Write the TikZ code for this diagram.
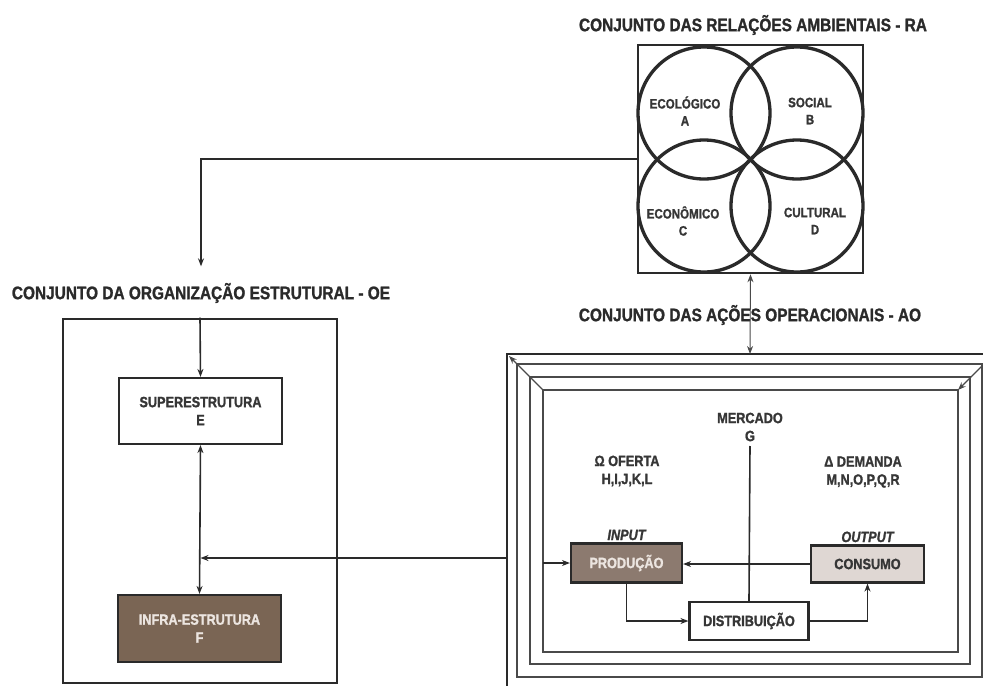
\documentclass[tikz,border=0pt]{standalone}
\usepackage{fontspec}
\setmainfont{Liberation Sans}[FakeStretch=0.85, BoldFeatures={FakeBold=1.3}, BoldItalicFeatures={FakeBold=1.3}]
\usetikzlibrary{arrows.meta,positioning}

\definecolor{ink}{HTML}{2A2A2A}
\definecolor{txt}{HTML}{363636}
\definecolor{claro}{HTML}{ECE5E0}
\definecolor{infra}{HTML}{7A6554}
\definecolor{prod}{HTML}{8C7A6F}
\definecolor{cons}{HTML}{DFD7D3}
\definecolor{moldura}{HTML}{4A4A4A}

\begin{document}
\begin{tikzpicture}[x=0.75pt, y=-0.75pt, >={Stealth[length=6pt,width=4.5pt]},
    every node/.style={align=center, text=txt, font=\bfseries\fontsize{11.2}{13.5}\selectfont}]

        % Styles for nodes
        \tikzstyle{titulo} = [font=\bfseries\fontsize{13.6}{15}\selectfont, text=ink]
        \tikzstyle{rotulo} = [font=\bfseries\fontsize{10.2}{12.8}\selectfont]
        \tikzstyle{caixa} = [draw=ink, line width=1.6pt, inner sep=0pt]
        \tikzstyle{fio} = [draw=ink, line width=1.2pt]
        \tikzstyle{filete} = [draw=moldura, line width=1pt]

        \useasboundingbox (0,0) rectangle (983,686);

        % Titles
        \node[titulo] (tRA) at (753,25) {CONJUNTO DAS RELAÇÕES AMBIENTAIS - RA};
        \node[titulo] (tOE) at (201,293) {CONJUNTO DA ORGANIZAÇÃO ESTRUTURAL - OE};
        \node[titulo] (tAO) at (750,315) {CONJUNTO DAS AÇÕES OPERACIONAIS - AO};

        % Relacoes ambientais
        \node[caixa, line width=1.9pt, minimum width=225*0.75pt, minimum height=228*0.75pt] (ra) at (750.5,159) {};
        \foreach \cx/\cy in {704/113, 797/113, 704/206, 797/206}
            \draw[ink, line width=2.5pt] (\cx,\cy) circle[radius=49.5pt];
        \node[rotulo] (eco) at (685,111) {ECOLÓGICO\\A};
        \node[rotulo] (soc) at (810,111) {SOCIAL\\B};
        \node[rotulo] (econ) at (683,221) {ECONÔMICO\\C};
        \node[rotulo] (cult) at (815,221) {CULTURAL\\D};

        % Organizacao estrutural
        \node[caixa, line width=1.9pt, minimum width=274*0.75pt, minimum height=364*0.75pt] (oe) at (200,501) {};
        \node[caixa, fill=white, minimum width=163*0.75pt, minimum height=66*0.75pt] (super) at (200.5,411) {SUPERESTRUTURA\\E};
        \node[caixa, fill=infra, text=claro, minimum width=163*0.75pt, minimum height=67*0.75pt] (infra) at (199.5,628.5) {INFRA-ESTRUTURA\\F};

        % Acoes operacionais (frame)
        \coordinate (aoT) at (750,354);
        \coordinate (aoL) at (507,558);
        \draw[ink, line width=1.9pt] (507,686) -- (507,354) -- (983,354);
        \draw[filete] (517,364) rectangle (982,677);
        \draw[filete] (530,377) rectangle (970,664);
        \draw[filete] (543,390) rectangle (958,652);
        \draw[filete, ->] (543,390) -- (509,356);
        \draw[filete, <-] (958,390) -- (982,366);

        \node (merc) at (750,427) {MERCADO\\G};
        \node (oferta) at (627,471) {Ω OFERTA\\H,I,J,K,L};
        \node (demanda) at (863,472) {Δ DEMANDA\\M,N,O,P,Q,R};
        \node[caixa, fill=prod, text=claro, minimum width=111*0.75pt, minimum height=39*0.75pt] (prod) at (626.5,563) {PRODUÇÃO};
        \node[caixa, fill=cons, minimum width=113*0.75pt, minimum height=37*0.75pt] (cons) at (867.5,564) {CONSUMO};
        \node[caixa, fill=white, minimum width=119*0.75pt, minimum height=38*0.75pt] (dist) at (749,621) {DISTRIBUIÇÃO};
        \node[font=\bfseries\itshape\fontsize{11.2}{13.5}\selectfont, inner sep=1.5pt] (inp) [above=0pt of prod] {INPUT};
        \node[font=\bfseries\itshape\fontsize{11.2}{13.5}\selectfont, inner sep=1.5pt] (outp) [above=0pt of cons] {OUTPUT};
        \coordinate (inL) at (543,563);

        % Arrows
        \draw[fio, ->] (ra.west) -| ([yshift=9pt]tOE.north);
        \draw[fio, ->] (oe.north) -- (super.north);
        \draw[fio, <->] (super.south) -- (infra.north);
        \draw[fio, ->] (aoL) -- (super.south |- aoL);
        \draw[moldura, line width=0.7pt, <->] (ra.south) -- (aoT);
        \draw[fio, ->] (inL) -- (prod.west);
        \draw[fio, ->] (cons.west) -- (prod.east |- cons.west);
        \draw[fio] (merc.south) -- (dist.north);
        \draw[fio, ->] (prod.south) |- (dist.west);
        \draw[fio, ->] (dist.east) -| (cons.south);

\end{tikzpicture}
\end{document}
